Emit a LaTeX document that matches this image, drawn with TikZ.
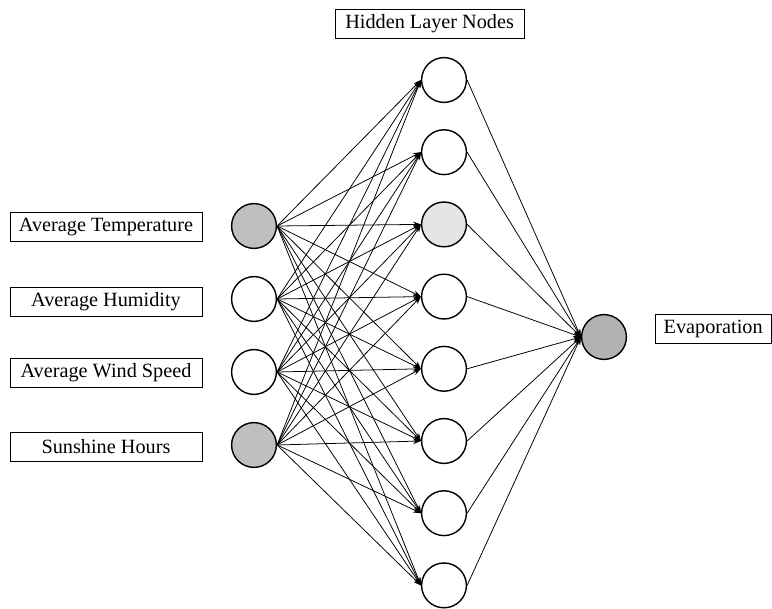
\documentclass[tikz,border=0pt]{standalone}
\usepackage{fontspec}
\setmainfont{Liberation Serif}
\usetikzlibrary{arrows.meta}

\begin{document}
\begin{tikzpicture}[
        neuron/.style={circle, draw, line width=1pt, minimum size=1.12cm, inner sep=0pt},
        shaded/.style={fill=gray!50},
        namebox/.style={draw, line width=0.7pt, minimum height=0.73cm, inner sep=2pt, font=\fontsize{14.4}{16}\selectfont},
        link/.style={-{Stealth[length=5.5pt, width=4pt]}, line width=0.55pt}
    ]
        \useasboundingbox (0,0) rectangle (19.3,15.2);

        % Input layer
        \node[neuron, shaded] (in1) at (6.35,9.55) {};
        \node[neuron] (in2) at (6.35,7.725) {};
        \node[neuron] (in3) at (6.35,5.9) {};
        \node[neuron, shaded] (in4) at (6.35,4.075) {};

        % Input labels
        \node[namebox, minimum width=4.8cm] (lab1) at (2.65,9.53) {Average Temperature};
        \node[namebox, minimum width=4.8cm] (lab2) at (2.65,7.66) {Average Humidity};
        \node[namebox, minimum width=4.8cm] (lab3) at (2.65,5.875) {Average Wind Speed};
        \node[namebox, minimum width=4.8cm] (lab4) at (2.65,4.03) {Sunshine Hours};

        % Hidden layer
        \node[neuron] (h1) at (11.1,13.2) {};
        \node[neuron] (h2) at (11.1,11.395) {};
        \node[neuron, fill=gray!20] (h3) at (11.1,9.59) {};
        \node[neuron] (h4) at (11.1,7.785) {};
        \node[neuron] (h5) at (11.1,5.98) {};
        \node[neuron] (h6) at (11.1,4.175) {};
        \node[neuron] (h7) at (11.1,2.37) {};
        \node[neuron] (h8) at (11.1,0.565) {};
        \node[namebox, minimum width=4.72cm] (hlab) at (10.74,14.6) {Hidden Layer Nodes};

        % Output layer
        \node[neuron, fill=gray!60] (out) at (15.1,6.775) {};
        \node[namebox, minimum width=2.9cm] (olab) at (17.83,6.975) {Evaporation};

        % Weights
        \foreach \i in {1,...,4}
            \foreach \j in {1,...,8}
                \draw[link] (in\i.east) -- (h\j.west);
        \foreach \j in {1,...,8}
            \draw[link] (h\j.east) -- (out.west);
    \end{tikzpicture}
\end{document}
